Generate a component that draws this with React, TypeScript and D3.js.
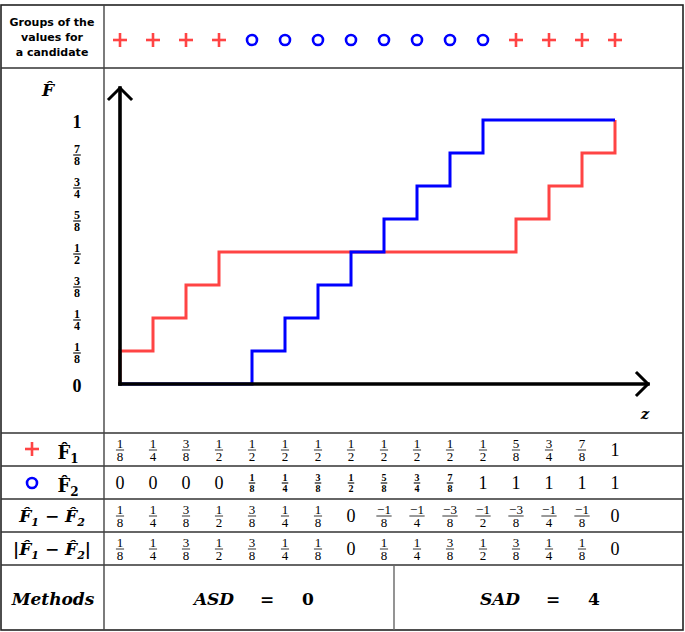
import React from "react";
import * as d3 from "d3";

// sorted pooled sample: which group each value came from
const groups = ["+", "+", "+", "+", "o", "o", "o", "o", "o", "o", "o", "o", "+", "+", "+", "+"];
// empirical cdf values at each z
const F1 = [1/8, 1/4, 3/8, 1/2, 1/2, 1/2, 1/2, 1/2, 1/2, 1/2, 1/2, 1/2, 5/8, 3/4, 7/8, 1];
const F2 = [0, 0, 0, 0, 1/8, 1/4, 3/8, 1/2, 5/8, 3/4, 7/8, 1, 1, 1, 1, 1];
const DIFF = [1/8, 1/4, 3/8, 1/2, 3/8, 1/4, 1/8, 0, -1/8, -1/4, -3/8, -1/2, -3/8, -1/4, -1/8, 0];
const ABSDIFF = [1/8, 1/4, 3/8, 1/2, 3/8, 1/4, 1/8, 0, 1/8, 1/4, 3/8, 1/2, 3/8, 1/4, 1/8, 0];
const yTicks = [0, 1/8, 1/4, 3/8, 1/2, 5/8, 3/4, 7/8, 1];
const methods = [{ name: "ASD", value: "0" }, { name: "SAD", value: "4" }];

const W = 685, H = 632;
const RED = "#ff4444", BLUE = "#0000ff";
const SERIF = "'Liberation Serif', 'DejaVu Serif', serif";
const MATH = "'DejaVu Serif', serif";

const gcd = (a: number, b: number): number => (b === 0 ? a : gcd(b, a % b));

function Frac({ v, x, y, size = 13, bold = false, whole = 18, wholeBold = false }: any) {
  const n = Math.round(v * 8);
  if (n % 8 === 0) {
    return (
      <text x={x} y={y + whole * 0.34} textAnchor="middle" fontFamily={SERIF}
        fontWeight={wholeBold ? "bold" : "normal"} fontSize={whole}>{n / 8}</text>
    );
  }
  const g = gcd(Math.abs(n), 8);
  const num = (n < 0 ? "\u2212" : "") + Math.abs(n) / g;
  const den = String(8 / g);
  const bw = Math.max(num.length, den.length) * size * 0.55 + 1;
  return (
    <g fontFamily={SERIF} fontSize={size} fontWeight={bold ? "bold" : "normal"} textAnchor="middle">
      <text x={x} y={y - 2.5}>{num}</text>
      <line x1={x - bw / 2} x2={x + bw / 2} y1={y} y2={y} stroke="#000" strokeWidth={bold ? 1.1 : 0.8} />
      <text x={x} y={y + size * 0.85}>{den}</text>
    </g>
  );
}

function Plus({ x, y, s = 7 }: any) {
  return (
    <g stroke={RED} strokeWidth={2.6}>
      <line x1={x - s} x2={x + s} y1={y} y2={y} />
      <line x1={x} x2={x} y1={y - s} y2={y + s} />
    </g>
  );
}

function Circ({ x, y }: any) {
  return <circle cx={x} cy={y} r={5} fill="none" stroke={BLUE} strokeWidth={2.6} />;
}

export default function App() {
  const x = d3.scaleLinear().domain([0, 15]).range([120, 615]);
  const y = d3.scaleLinear().domain([0, 1]).range([384, 120]);

  const step = d3.line<[number, number]>()
    .x(d => x(d[0]))
    .y(d => y(d[1]))
    .curve(d3.curveStepAfter);
  const pts = (F: number[]): [number, number][] =>
    [[0, 0] as [number, number]].concat(F.map((v, i) => [i, v] as [number, number]));

  const rowY = [450, 483, 516, 549];
  const rowLines = [5, 68, 433, 466, 499, 532, 565, 630];

  return (
    <svg width={W} height={H} style={{ position: "absolute", left: 0, top: 0, background: "#fff" }}>
      {/* table grid */}
      <rect x={1} y={5} width={682} height={625} fill="none" stroke="#222" strokeWidth={1.6} />
      {rowLines.slice(1, -1).map(ly => (
        <line key={ly} x1={1} x2={683} y1={ly} y2={ly} stroke="#333" strokeWidth={1.4} />
      ))}
      <line x1={104} x2={104} y1={5} y2={630} stroke="#444" strokeWidth={1.4} />
      <line x1={394} x2={394} y1={565} y2={630} stroke="#666" strokeWidth={1.4} />

      {/* header */}
      <g fontFamily="'DejaVu Sans', sans-serif" fontWeight="bold" fontSize={11} textAnchor="middle">
        <text x={52} y={26}>Groups of the</text>
        <text x={52} y={41}>values for</text>
        <text x={52} y={56}>a candidate</text>
      </g>
      {groups.map((g, i) => g === "+"
        ? <Plus key={i} x={x(i)} y={40} />
        : <Circ key={i} x={x(i)} y={40} />)}

      {/* chart */}
      <path d={step(pts(F1)) || ""} fill="none" stroke={RED} strokeWidth={3} />
      <path d={step(pts(F2)) || ""} fill="none" stroke={BLUE} strokeWidth={3} />
      <g stroke="#000" strokeWidth={3.6} fill="none" strokeLinecap="square">
        <line x1={x(0)} x2={x(0)} y1={y(0)} y2={88} />
        <polyline points={`${x(0) - 11},99 ${x(0)},88 ${x(0) + 11},99`} strokeWidth={3} />
        <line x1={x(0)} x2={648} y1={y(0)} y2={y(0)} />
        <polyline points={`637,373 648,384 637,395`} strokeWidth={3} />
      </g>
      <text x={48} y={96} fontFamily={MATH} fontStyle="italic" fontWeight="bold" fontSize={17} textAnchor="middle">F{"\u0302"}</text>
      <text x={645} y={419} fontFamily={MATH} fontStyle="italic" fontWeight="bold" fontSize={15} textAnchor="middle">z</text>
      {yTicks.map(t => (
        <Frac key={t} v={t} x={77} y={y(t) + 2} size={12} bold whole={18} wholeBold />
      ))}

      {/* row labels */}
      <Plus x={32} y={449} />
      <text x={68} y={459} fontFamily={MATH} fontWeight="bold" fontSize={18} textAnchor="middle">
        F{"\u0302"}<tspan fontSize={12} dy={4}>1</tspan>
      </text>
      <Circ x={32} y={483} />
      <text x={68} y={492} fontFamily={MATH} fontWeight="bold" fontSize={18} textAnchor="middle">
        F{"\u0302"}<tspan fontSize={12} dy={4}>2</tspan>
      </text>
      <text x={52} y={522} fontFamily={MATH} fontWeight="bold" fontStyle="italic" fontSize={17} textAnchor="middle">
        F{"\u0302"}<tspan fontSize={11} dy={4}>1</tspan><tspan dy={-4}> {"\u2212"} F{"\u0302"}</tspan><tspan fontSize={11} dy={4}>2</tspan>
      </text>
      <text x={52} y={555} fontFamily={MATH} fontWeight="bold" fontStyle="italic" fontSize={17} textAnchor="middle">
        |F{"\u0302"}<tspan fontSize={11} dy={4}>1</tspan><tspan dy={-4}> {"\u2212"} F{"\u0302"}</tspan><tspan fontSize={11} dy={4}>2</tspan><tspan dy={-4}>|</tspan>
      </text>

      {/* row values */}
      {F1.map((v, i) => <Frac key={"a" + i} v={v} x={x(i)} y={rowY[0]} />)}
      {F2.map((v, i) => <Frac key={"b" + i} v={v} x={x(i)} y={rowY[1]} size={10} bold />)}
      {DIFF.map((v, i) => <Frac key={"c" + i} v={v} x={x(i)} y={rowY[2]} />)}
      {ABSDIFF.map((v, i) => <Frac key={"d" + i} v={v} x={x(i)} y={rowY[3]} />)}

      {/* methods */}
      <g fontFamily={MATH} fontWeight="bold" fontSize={17}>
        <text x={53} y={605} fontStyle="italic" textAnchor="middle">Methods</text>
        {methods.map((m, i) => {
          const cx = i === 0 ? 252 : 538;
          return (
            <g key={m.name} textAnchor="middle">
              <text x={cx - 38} y={605} fontStyle="italic">{m.name}</text>
              <text x={cx + 15} y={605}>=</text>
              <text x={cx + 56} y={605}>{m.value}</text>
            </g>
          );
        })}
      </g>
    </svg>
  );
}
